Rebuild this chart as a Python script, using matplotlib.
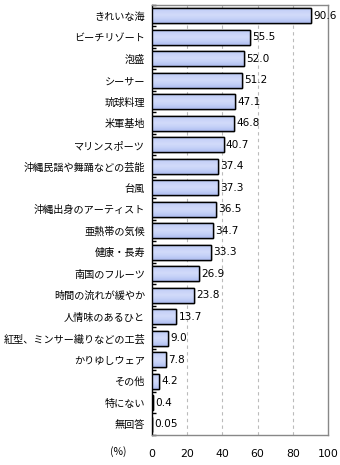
import matplotlib
matplotlib.use("Agg")
import matplotlib.pyplot as plt
import numpy as np
from matplotlib.colors import LinearSegmentedColormap

plt.rcParams['font.family'] = ['Noto Sans CJK JP', 'DejaVu Sans']

categories = ["きれいな海", "ビーチリゾート", "泡盛", "シーサー", "琉球料理", "米軍基地",
              "マリンスポーツ", "沖縄民謡や舞踊などの芸能", "台風", "沖縄出身のアーティスト",
              "亜熱帯の気候", "健康・長寿", "南国のフルーツ", "時間の流れが緩やか",
              "人情味のあるひと", "紅型、ミンサー織りなどの工芸", "かりゆしウェア",
              "その他", "特にない", "無回答"]
values = [90.6, 55.5, 52.0, 51.2, 47.1, 46.8, 40.7, 37.4, 37.3, 36.5, 34.7, 33.3,
          26.9, 23.8, 13.7, 9.0, 7.8, 4.2, 0.4, 0.05]
value_labels = ["90.6", "55.5", "52.0", "51.2", "47.1", "46.8", "40.7", "37.4", "37.3",
                "36.5", "34.7", "33.3", "26.9", "23.8", "13.7", "9.0", "7.8", "4.2",
                "0.4", "0.05"]
xticks = [0, 20, 40, 60, 80, 100]

fig = plt.figure(figsize=(3.4, 4.65), dpi=100)
ax = fig.add_axes([152/340, 30/465, 176/340, 430/465])

n = len(categories)
y = np.arange(n)
bh = 0.7
ax.set_xlim(0, 100)
ax.set_ylim(n - 0.5, -0.5)

cmap = LinearSegmentedColormap.from_list("g", ["#b4c2f2", "#c8d3f8", "#d2dbfa", "#c4d0f7", "#aebdf0"])
grad = np.linspace(0, 1, 64).reshape(-1, 1)

bars = ax.barh(y, values, height=bh, color="#c0cdf6", edgecolor="black", linewidth=1.0, zorder=3)
for b in bars:
    x0, y0 = b.get_x(), b.get_y()
    w, h = b.get_width(), b.get_height()
    if w > 0.5:
        im = ax.imshow(grad, cmap=cmap, aspect='auto', extent=[x0, x0 + w, y0 + h, y0],
                       zorder=3.5, interpolation='bilinear')
        im.set_clip_path(b)
    b2 = plt.Rectangle((x0, y0), w, h, fill=False, edgecolor="black", linewidth=1.0, zorder=4)
    ax.add_patch(b2)

for yi, v, lab in zip(y, values, value_labels):
    ax.text(v + 1.3, yi, lab, va='center', ha='left', fontsize=7.6, family='DejaVu Sans', zorder=5)

ax.set_yticks(y)
ax.set_yticklabels(categories, fontsize=7.3)
ax.tick_params(axis='y', length=0, pad=5)
ax.set_yticks(np.arange(-0.5, n, 1.0), minor=True)
ax.tick_params(axis='y', which='minor', direction='in', length=3, width=1, color='black')

ax.set_xticks(xticks)
ax.set_xticklabels([str(t) for t in xticks], fontsize=7.8, family='DejaVu Sans')
ax.tick_params(axis='x', length=0, pad=10)

for t in [20, 40, 60, 80]:
    ax.axvline(t, color='#bbbbbb', linestyle=(0, (3, 3)), linewidth=0.8, zorder=1)

ax.spines['left'].set_color('black')
ax.spines['left'].set_linewidth(1.0)
for s in ['top', 'right', 'bottom']:
    ax.spines[s].set_color('#888888')
    ax.spines[s].set_linewidth(1.0)

fig.text(118/340, 1 - 452/465, "(%)", fontsize=7.5, ha='center', va='center')

fig.savefig("out.png", dpi=100)
